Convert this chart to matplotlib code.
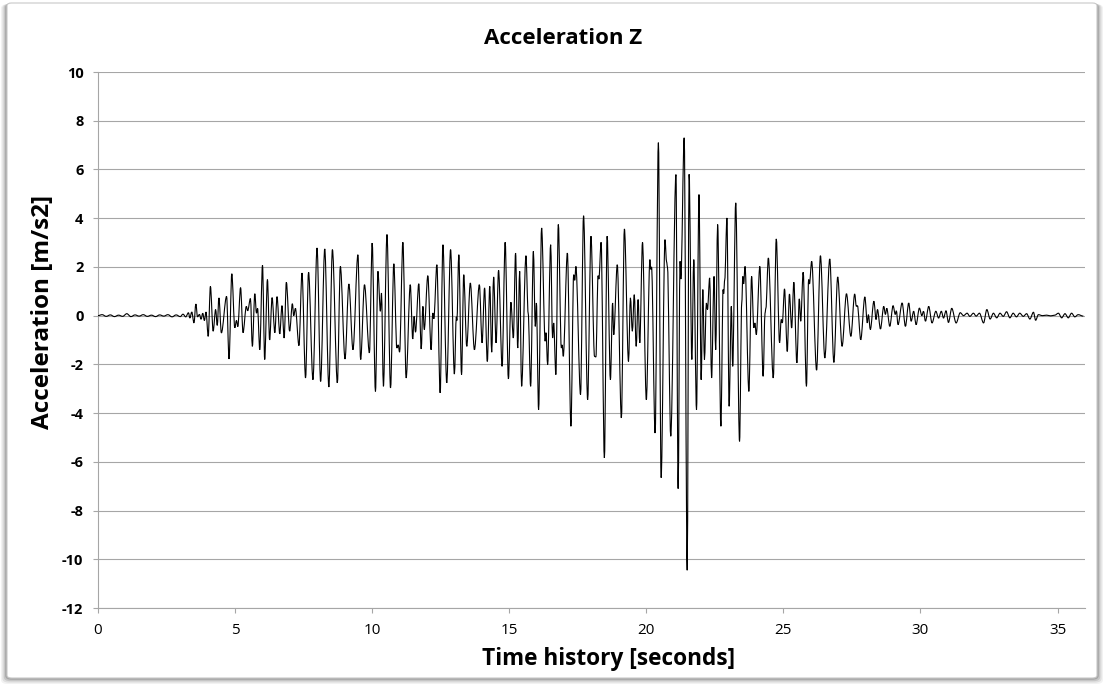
import numpy as np
import matplotlib
matplotlib.use("Agg")
import matplotlib.pyplot as plt
from matplotlib.patches import FancyBboxPatch, PathPatch
from matplotlib.path import Path

plt.rcParams["font.family"] = ["Open Sans", "DejaVu Sans"]
plt.rcParams["axes.unicode_minus"] = False

# quiet record before the event (seconds, m/s2)
t_pre = [0.0, 0.15, 0.3, 0.45, 0.6, 0.75, 0.9, 1.05, 1.2, 1.35, 1.5, 1.65,
         1.8, 1.95, 2.1, 2.25, 2.4, 2.55, 2.7, 2.85, 3.0, 3.1, 3.2, 3.3]
a_pre = [0.0, 0.04, -0.03, 0.03, -0.04, 0.02, -0.03, 0.08, -0.04, 0.03, -0.02, 0.04,
         -0.03, 0.02, -0.04, 0.03, -0.02, 0.04, -0.05, 0.03, -0.04, 0.06, -0.05, 0.12]

# strong motion, peaks and troughs
t_main = [3.35, 3.42, 3.5, 3.57, 3.63, 3.7, 3.76, 3.82, 3.88, 3.94,
          4.02, 4.1, 4.2, 4.29, 4.35, 4.41, 4.5, 4.69, 4.78, 4.88, 4.99, 5.05, 5.1,
          5.2, 5.29, 5.41, 5.46, 5.56, 5.63, 5.72, 5.78, 5.82, 5.9, 6.0, 6.08, 6.18,
          6.26, 6.35, 6.45, 6.53, 6.63, 6.71, 6.79, 6.87, 6.99, 7.09, 7.14, 7.2,
          7.33, 7.44, 7.57, 7.68, 7.84, 7.99, 8.12, 8.27, 8.42, 8.55, 8.73, 8.84,
          9.01, 9.15, 9.3, 9.48, 9.58, 9.72, 9.9, 10.0, 10.12, 10.21, 10.3, 10.34,
          10.41, 10.54, 10.67, 10.79, 10.9, 10.95, 11.0, 11.12, 11.24, 11.39, 11.48,
          11.53, 11.58, 11.7, 11.79, 11.85, 11.9, 12.03, 12.15, 12.21, 12.25, 12.36,
          12.48, 12.58, 12.72, 12.86, 13.0, 13.07, 13.09, 13.16, 13.26, 13.34, 13.45,
          13.58, 13.73, 13.91, 14.01, 14.1, 14.2, 14.29, 14.36, 14.43, 14.52, 14.61,
          14.74, 14.85, 14.97, 15.06, 15.15, 15.23, 15.31, 15.38, 15.45, 15.61, 15.69,
          15.78, 15.88, 15.95, 15.99, 16.07, 16.18, 16.31, 16.34, 16.4, 16.51, 16.58,
          16.62, 16.7, 16.79, 16.9, 16.93, 16.97, 17.12, 17.25, 17.35, 17.39, 17.43,
          17.6, 17.71, 17.86, 17.98, 18.11, 18.16, 18.24, 18.27, 18.35, 18.47, 18.57,
          18.69, 18.77, 18.81, 18.94, 19.09, 19.2, 19.35, 19.42, 19.49, 19.56, 19.63,
          19.7, 19.76, 19.86, 20.0, 20.13, 20.16, 20.19, 20.32, 20.44, 20.54, 20.68,
          20.74, 20.77, 20.89, 21.08, 21.16, 21.23, 21.26, 21.38, 21.49, 21.56, 21.66,
          21.73, 21.83, 21.92, 22.0, 22.06, 22.12, 22.19, 22.23, 22.31, 22.38, 22.47,
          22.53, 22.6, 22.72, 22.8, 22.82, 22.86, 22.94, 23.02, 23.1, 23.15, 23.26,
          23.4, 23.48, 23.52, 23.55, 23.6, 23.74, 23.84, 23.92, 23.96, 24.01, 24.14,
          24.26, 24.33, 24.36, 24.45, 24.63, 24.74, 24.86, 24.92, 24.96, 25.04, 25.14,
          25.22, 25.3, 25.38, 25.49, 25.58, 25.63, 25.72, 25.84, 25.92, 25.95, 26.03,
          26.21, 26.35, 26.51, 26.69, 26.84, 26.98, 27.14, 27.3, 27.46, 27.6, 27.66,
          27.7, 27.82, 27.97]
a_main = [-0.1, 0.15, -0.3, 0.48, -0.05, 0.05, -0.15, 0.1, -0.2, 0.15,
          -0.85, 1.2, -0.64, 0.25, -0.4, 0.73, -0.71, 0.79, -1.78, 1.72, -0.5, -0.2, -0.45,
          1.15, -0.7, 0.38, 0.2, 0.7, -1.26, 0.9, 0.1, 0.3, -1.4, 2.07, -1.8, 1.48,
          -1.0, 0.74, -0.7, 0.78, -0.75, 0.41, -0.92, 1.37, -0.64, 0.49, 0.0, 0.3,
          -1.23, 1.75, -2.56, 1.78, -2.63, 2.78, -2.7, 2.74, -2.93, 2.71, -2.76, 2.02,
          -1.78, 1.3, -1.4, 2.5, -1.8, 1.27, -1.53, 2.98, -3.11, 1.82, 0.18, 0.93,
          -2.9, 3.33, -2.97, 2.13, -1.33, -1.2, -1.5, 3.01, -2.56, 1.27, -0.96,
          -0.03, -0.68, 1.31, -1.37, 0.38, -0.57, 1.64, -1.4, 0.11, -0.13, 2.09,
          -3.17, 2.91, -2.76, 2.71, -2.4, -0.05, -0.2, 2.5, -2.42, 1.68, -1.26,
          1.34, -1.4, 1.27, -1.12, 1.14, -1.88, 1.2, -1.5, 1.59, -1.12, 1.86,
          -2.08, 3.01, -2.6, 0.55, -0.92, 2.57, -1.33, 1.82, -2.9, 2.46, 0.1,
          -2.9, 2.64, -0.44, 0.52, -3.86, 3.6, -1.05, -0.7, -2.01, 2.91, -0.92,
          -0.3, -2.42, 3.74, -1.33, -1.2, -1.67, 2.57, -4.54, 1.68, 1.45, 2.02,
          -3.24, 4.1, -3.45, 3.26, -1.67, -1.7, 1.64, 1.5, 3.01, -5.84, 3.26,
          -2.63, 0.52, -0.78, 2.09, -4.2, 3.56, -1.88, 0.73, -0.64, 0.86, -1.26,
          0.66, -1.12, 3.01, -3.45, 2.3, 1.9, 2.0, -4.82, 7.1, -6.65, 3.12,
          2.2, 2.0, -4.95, 5.79, -7.1, 2.23, 1.5, 7.3, -10.45, 5.8, -1.8,
          2.3, -3.86, 4.97, -2.63, 1.07, -1.8, 0.52, 0.25, 1.55, -2.56, 1.61,
          -1.4, 3.74, -4.54, 1.07, 0.9, 1.48, 4.01, -3.72, 0.38, -2.08, 4.63,
          -5.16, 0.52, 1.61, 1.3, 2.02, -3.11, 1.61, -0.5, -0.3, -0.78, 2.02,
          -2.49, 0.11, 0.3, 2.37, -2.56, 3.15, -1.12, -0.16, -0.3, 1.1, -1.47,
          0.89, -0.51, 1.37, -1.94, 0.69, -0.23, 1.78, -2.9, 1.48, 1.3, 2.23,
          -2.24, 2.46, -1.74, 2.33, -1.92, 1.59, -1.26, 0.9, -0.85, 0.89, 0.38,
          0.41, -0.99, 0.77]

# decaying tail
t_tail = [28.06, 28.1, 28.17, 28.3, 28.38, 28.43, 28.54, 28.66, 28.72, 28.77, 28.88,
          29.0, 29.08, 29.12, 29.18, 29.33, 29.45, 29.57, 29.66, 29.75, 29.84, 29.96,
          30.05, 30.11, 30.18, 30.3, 30.42, 30.56, 30.66, 30.76, 30.84, 30.93, 31.02,
          31.14, 31.3, 31.45, 31.57, 31.7, 31.8, 31.93, 32.03, 32.15, 32.3, 32.42,
          32.54, 32.66, 32.78, 32.9, 33.02, 33.14, 33.26, 33.38, 33.5, 33.62, 33.75,
          33.87, 33.99, 34.12, 34.2, 34.3, 34.45, 34.6, 34.75, 34.9, 35.03, 35.15,
          35.27, 35.39, 35.51, 35.63, 35.75, 35.94]
a_tail = [-0.3, 0.04, -0.57, 0.59, -0.16, 0.25, -0.55, 0.38, 0.05, 0.3, -0.44,
          0.41, 0.05, 0.2, -0.37, 0.52, -0.44, 0.52, -0.23, 0.18, -0.37, 0.31,
          0.0, 0.18, -0.23, 0.38, -0.3, 0.18, -0.1, 0.18, -0.1, 0.2, -0.28,
          0.3, -0.3, 0.12, 0.0, 0.1, -0.03, 0.1, -0.02, 0.1, -0.3, 0.25,
          -0.14, 0.1, -0.09, 0.1, -0.03, 0.16, -0.09, 0.1, -0.05, 0.1, -0.03,
          0.08, -0.14, 0.14, -0.19, 0.04, 0.0, 0.02, -0.01, 0.02, 0.1, -0.09,
          0.08, -0.09, 0.1, -0.05, 0.04, -0.02]

y_ticks = [-12, -10, -8, -6, -4, -2, 0, 2, 4, 6, 8, 10]
x_ticks = [0, 5, 10, 15, 20, 25, 30, 35]


def wave_path(xs, ys):
    # cubic segments with flat tangents at each peak/trough, so the trace
    # reads as a smooth oscillation instead of a zigzag
    verts = [(xs[0], ys[0])]
    codes = [Path.MOVETO]
    for i in range(len(xs) - 1):
        dx = (xs[i + 1] - xs[i]) / 3.0
        verts += [(xs[i] + dx, ys[i]), (xs[i + 1] - dx, ys[i + 1]), (xs[i + 1], ys[i + 1])]
        codes += [Path.CURVE4] * 3
    return Path(verts, codes)


W, H = 1105, 686
fig = plt.figure(figsize=(W / 100, H / 100), dpi=100)
fig.patch.set_facecolor("white")

# chart area frame with a soft shadow, Excel style
for i, alpha in enumerate([0.05, 0.08, 0.11, 0.16]):
    grow = 6 - i * 1.4
    fig.patches.append(FancyBboxPatch(
        ((7 - grow) / W, (8 - grow) / H), (1090 + grow * 2) / W, (675 + grow * 0.8) / H,
        boxstyle="round,pad=0,rounding_size=0.006", transform=fig.transFigure,
        facecolor="black", edgecolor="none", alpha=alpha, zorder=0))
fig.patches.append(FancyBboxPatch(
    (7 / W, 8 / H), 1090 / W, 675 / H,
    boxstyle="round,pad=0,rounding_size=0.004", transform=fig.transFigure,
    facecolor="white", edgecolor="#c8c8c8", linewidth=0.8, zorder=1))

ax = fig.add_axes([98 / W, 78 / H, 987 / W, 536 / H])
ax.set_zorder(2)
ax.patch.set_alpha(0)

t = t_pre + t_main + t_tail
a = a_pre + a_main + a_tail
ax.add_patch(PathPatch(wave_path(t, a), facecolor="none", edgecolor="black",
                       linewidth=0.8, zorder=3))

ax.set_xlim(0, 36)
ax.set_ylim(-12, 10)
ax.set_yticks(y_ticks)
ax.set_xticks(x_ticks)
ax.grid(True, axis="y", color="#a6a6a6", linewidth=0.8)
ax.set_axisbelow(True)

for side in ["top", "right"]:
    ax.spines[side].set_visible(False)
for side in ["left", "bottom"]:
    ax.spines[side].set_color("#a6a6a6")
    ax.spines[side].set_linewidth(0.8)

ax.tick_params(axis="both", direction="out", length=3.5, width=0.8, color="#a6a6a6")
ax.tick_params(axis="y", pad=7, labelsize=10.5)
ax.tick_params(axis="x", pad=7, labelsize=11)
for lab in ax.get_yticklabels():
    lab.set_fontweight("bold")

fig.text(563 / W, 1 - 38 / H, "Acceleration Z", ha="center", va="center",
         fontsize=16, fontweight="bold")
fig.text(609 / W, 1 - 659 / H, "Time history [seconds]", ha="center", va="center",
         fontsize=16.3, fontweight="bold")
fig.text(43 / W, 1 - 312 / H, "Acceleration [m/s2]", ha="center", va="center",
         rotation=90, fontsize=17.5, fontweight="bold")

plt.savefig("out.png", dpi=100)
plt.close()
